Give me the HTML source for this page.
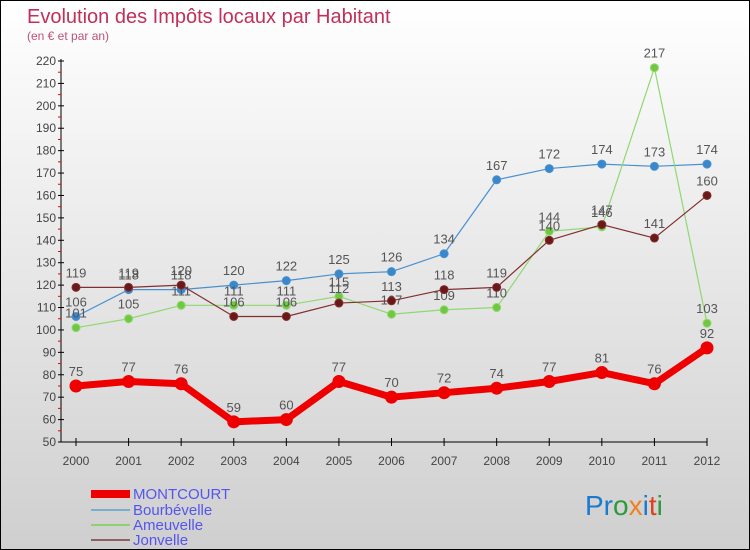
<!DOCTYPE html>
<html><head><meta charset="utf-8"><style>
body{margin:0}
#c{width:750px;height:550px;position:relative;box-sizing:border-box;border:1px solid #000;background:linear-gradient(#fff,#cfcfcf);font-family:"Liberation Sans",sans-serif;overflow:hidden}
</style></head><body>
<div id="c">
<svg id="s" width="750" height="550" style="position:absolute;left:0;top:0">
<text x="26" y="22" font-size="20" fill="#c0305a">Evolution des Impôts locaux par Habitant</text>
<text x="26" y="39" font-size="12" fill="#c0507a">(en € et par an)</text>
<g id="ax"></g><g id="series"></g>
<g>
<rect x="90" y="489" width="39" height="8" fill="#e00"/>
<text x="132" y="498" font-size="15" fill="#5555ee">MONTCOURT</text>
<line x1="90" y1="509" x2="129" y2="509" stroke="#7aaed0" stroke-width="2"/>
<text x="132" y="514" font-size="15" fill="#5555ee">Bourbévelle</text>
<line x1="90" y1="524" x2="129" y2="524" stroke="#90d070" stroke-width="2"/>
<text x="132" y="529" font-size="15" fill="#5555ee">Ameuvelle</text>
<line x1="90" y1="539" x2="129" y2="539" stroke="#906060" stroke-width="2"/>
<text x="132" y="544" font-size="15" fill="#5555ee">Jonvelle</text>
</g>
<text x="584" y="514" font-size="28"><tspan fill="#1a7ad0">Pr</tspan><tspan fill="#2a9a3a">o</tspan><tspan fill="#f08020">x</tspan><tspan fill="#1a7ad0">i</tspan><tspan fill="#e04020">t</tspan><tspan fill="#2a9a3a">i</tspan></text>
</svg>
</div>
<script>
const years=["2000","2001","2002","2003","2004","2005","2006","2007","2008","2009","2010","2011","2012"];
const montcourt=[75,77,76,59,60,77,70,72,74,77,81,76,92];
const bourbevelle=[106,118,118,120,122,125,126,134,167,172,174,173,174];
const ameuvelle=[101,105,111,111,111,115,107,109,110,144,146,217,103];
const jonvelle=[119,119,120,106,106,112,113,118,119,140,147,141,160];
const yTicks=[50,60,70,80,90,100,110,120,130,140,150,160,170,180,190,200,210,220];
const NS="http://www.w3.org/2000/svg";
function X(i){return 75+i*(706-75)/12;}
function Y(v){return 441-(v-50)*(441-60)/170;}
function mk(tag,attrs,parent){const e=document.createElementNS(NS,tag);for(const k in attrs)e.setAttribute(k,attrs[k]);parent.appendChild(e);return e;}
const ax=document.getElementById('ax'),sg=document.getElementById('series');
let e=mk('line',{x1:60,y1:58,x2:60,y2:441,stroke:'#000'},ax);


e=mk('line',{x1:60,y1:441,x2:706,y2:441,stroke:'#000'},ax);


yTicks.forEach(v=>{
 const y=Y(v);
 mk('line',{x1:57,y1:y,x2:63,y2:y,stroke:'#000'},ax);
 if(v<220) mk('line',{x1:57,y1:Y(v+5),x2:60,y2:Y(v+5),stroke:'#e00'},ax);
 const t=mk('text',{x:55,y:y+4,'font-size':12,fill:'#444','text-anchor':'end'},ax);
 t.textContent=v;
 
 
});
years.forEach((yr,i)=>{
 mk('line',{x1:X(i),y1:437,x2:X(i),y2:445,stroke:'#000'},ax);
 const t=mk('text',{x:X(i),y:464,'font-size':12,fill:'#444','text-anchor':'middle'},ax);
 t.textContent=yr;
 
 
});
function series(data,name,color,dot,w,r){
 const g=mk('g',{},sg);
 
 
 const p=mk('polyline',{points:data.map((v,i)=>X(i)+','+Y(v)).join(' '),fill:'none',stroke:color,'stroke-width':w,'stroke-linejoin':'round'},g);
 
 
 data.forEach((v,i)=>{
  const c=mk('circle',{cx:X(i),cy:Y(v),r:r,fill:dot,stroke:color,'stroke-width':1},g);
  
  
  const t=mk('text',{x:X(i),y:Y(v)-10,'font-size':13,fill:'#555','text-anchor':'middle'},g);
  t.textContent=v;
  
  
 });
}
series(bourbevelle,'bourbevelle','#4a90d0','#3a88cc',1.2,4);
series(ameuvelle,'ameuvelle','#90d870','#70c840',1.2,4);
series(jonvelle,'jonvelle','#803030','#6a1818',1.2,4);
series(montcourt,'montcourt','#ee0000','#ee0000',7,6);
</script>
</body></html>
